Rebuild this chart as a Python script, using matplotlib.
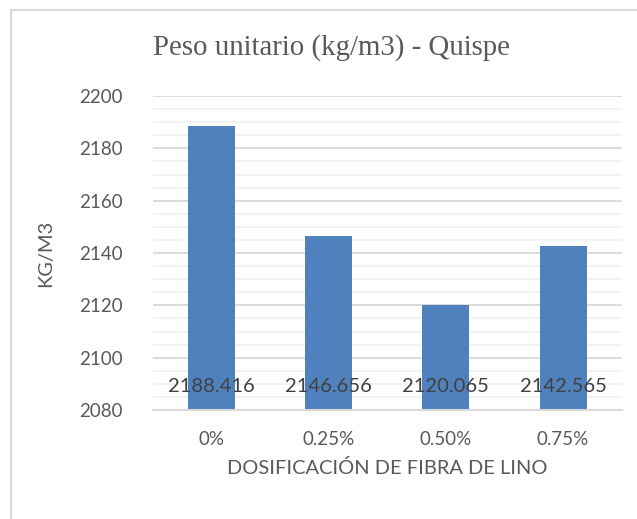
import numpy as np
import matplotlib.pyplot as plt
from matplotlib.ticker import MultipleLocator
from matplotlib.patches import Rectangle

# data
categorias = ['0%', '0.25%', '0.50%', '0.75%']
peso = [2188.416, 2146.656, 2120.065, 2142.565]
etiquetas = ['2188.416', '2146.656', '2120.065', '2142.565']

plt.rcParams['font.family'] = ['Lato', 'DejaVu Sans']

fig = plt.figure(figsize=(6.37, 5.19), dpi=100)
ax = fig.add_axes([0.240, 0.210, 0.736, 0.605])

x = np.arange(len(categorias))
ax.bar(x, peso, width=0.4, color='#4F81BD', zorder=3)

ax.set_ylim(2080, 2200)
ax.set_xlim(-0.5, len(categorias) - 0.5)
ax.yaxis.set_major_locator(MultipleLocator(20))
ax.yaxis.set_minor_locator(MultipleLocator(5))
ax.grid(which='major', axis='y', color='#D9D9D9', lw=1.3, zorder=0)
ax.grid(which='minor', axis='y', color='#F2F2F2', lw=1.3, zorder=0)

for s in ['top', 'right', 'left']:
    ax.spines[s].set_visible(False)
ax.spines['bottom'].set_color('#D9D9D9')
ax.spines['bottom'].set_linewidth(1.5)
ax.spines['bottom'].set_zorder(4)

ax.set_xticks(x)
ax.set_xticklabels(categorias)
ax.tick_params(axis='both', which='both', length=0, labelsize=13.5, colors='#595959')
ax.tick_params(axis='y', pad=22)
ax.tick_params(axis='x', pad=15)

for i, lab in enumerate(etiquetas):
    ax.annotate(lab, xy=(x[i], 2080), xytext=(0, 17), textcoords='offset points',
                ha='center', va='center', fontsize=14.5, color='#404040', zorder=5)

ax.set_ylabel('KG/M3', fontsize=14.4, color='#595959', labelpad=18)
ax.set_xlabel('DOSIFICACIÓN DE FIBRA DE LINO', fontsize=14.4, color='#595959', labelpad=8)

fig.text(0.52, 0.909, 'Peso unitario (kg/m3) - Quispe', ha='center', va='center',
         fontsize=20.8, color='#595959', family=['Liberation Serif', 'DejaVu Serif'])

fig.patches.append(Rectangle((11 / 637, -0.1), 1.2, 0.9807 + 0.1, transform=fig.transFigure,
                             fill=False, edgecolor='#D9D9D9', lw=1.5))

fig.savefig('out.png', dpi=100)
